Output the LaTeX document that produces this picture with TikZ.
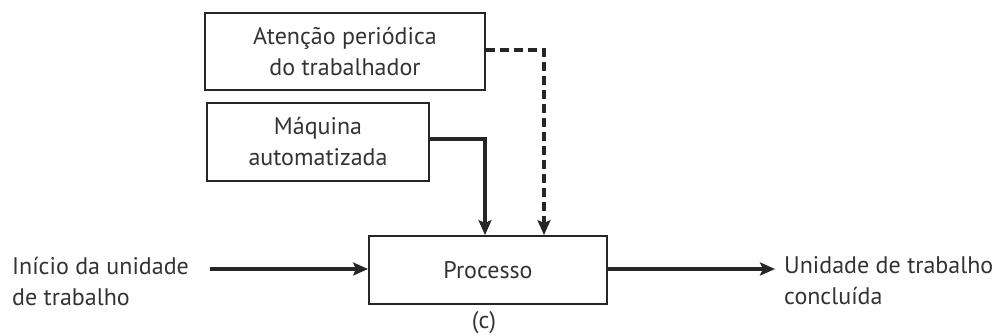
\documentclass[tikz,border=0pt]{standalone}
\usepackage{fontspec}
\setmainfont{PT Sans}
\usetikzlibrary{arrows.meta}
\begin{document}
\begin{tikzpicture}[x=1pt,y=-1pt,
  box/.style={draw=black!85,line width=1.8pt,minimum height=0pt,inner sep=0pt},
  lbl/.style={font=\fontsize{24}{31}\selectfont,align=left,text=black!80,inner sep=0pt},
  flow/.style={line width=3.6pt,draw=black!85,-{Stealth[length=15pt,width=13pt,inset=3pt]}},
  txt/.style={font=\fontsize{24}{31}\selectfont,align=center,text=black!80}]
\useasboundingbox (0,0) rectangle (1002,335);
% boxes
\node[box,minimum width=280pt,minimum height=77pt,txt] (att) at (345,51.5) {Atenção periódica\\do trabalhador};
\node[box,minimum width=222pt,minimum height=78pt,txt] (maq) at (318,142) {Máquina\\automatizada};
\node[box,minimum width=238pt,minimum height=68pt,txt] (proc) at (488,270) {Processo};
% texts
\node[lbl,anchor=west] (ini) at (12,281) {Início da unidade\\de trabalho};
\node[lbl,anchor=west] (fim) at (784,281) {Unidade de trabalho\\concluída};
\node[txt,inner sep=0pt] (cap) at (484,323) {(c)};
% coordinates
\coordinate (ini-e) at (210,269);
\coordinate (fim-w) at (775,269);
\coordinate (c1) at (485,139);
\coordinate (c2) at (544,50);
% connectors
\draw[flow] (ini-e) -- (proc.west |- ini-e);
\draw[flow] (proc.east |- fim-w) -- (fim-w);
\draw[flow] (maq.east |- c1) -- (c1) -- (c1 |- proc.north);
\draw[flow,dash pattern=on 9pt off 5pt] (att.east |- c2) -- (c2) -- (c2 |- proc.north);
\end{tikzpicture}
\end{document}
